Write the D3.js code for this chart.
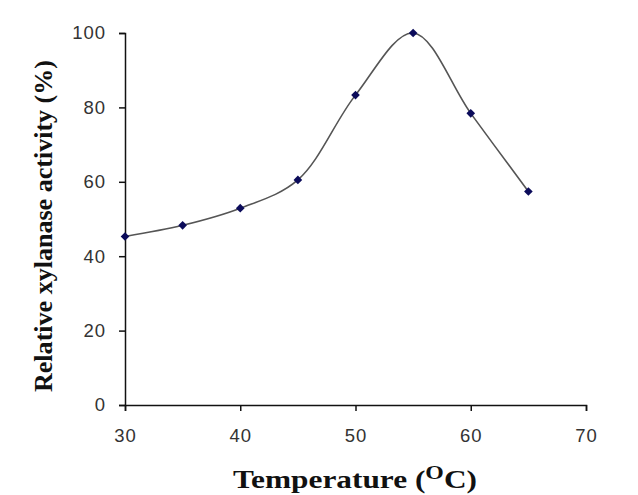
<!DOCTYPE html>
<html><head><meta charset="utf-8">
<script src="https://cdn.jsdelivr.net/npm/d3@7"></script>
<style>body{margin:0;background:#fff}</style>
</head><body>
<svg id="c" width="638" height="495"></svg>
<script>
const temps = [30, 35, 40, 45, 50, 55, 60, 65];
const activity = [45.3, 48.3, 52.9, 60.5, 83.3, 100, 78.4, 57.4];
const xTicks = [30, 40, 50, 60, 70];
const yTicks = [0, 20, 40, 60, 80, 100];

const svg = d3.select("#c");
const x = d3.scaleLinear().domain([30, 70]).range([125, 586]);
const y = d3.scaleLinear().domain([0, 100]).range([405, 33]);

const xAxis = svg.append("g").attr("transform", "translate(0,405)")
  .call(d3.axisBottom(x).tickValues(xTicks).tickSize(6).tickPadding(18));
const yAxis = svg.append("g").attr("transform", "translate(125,0)")
  .call(d3.axisLeft(y).tickValues(yTicks).tickSize(6).tickPadding(13));
[xAxis, yAxis].forEach(a => {
  a.selectAll("path,line").attr("stroke", "#111").attr("stroke-width", 1.5);
  a.selectAll("text").attr("font-family", "Liberation Sans, Arial, sans-serif")
    .attr("font-size", 18.5).attr("fill", "#333").attr("letter-spacing", "1px");
});

const pts = temps.map((t, i) => [t, activity[i]]);
svg.append("path").datum(pts)
  .attr("fill", "none").attr("stroke", "#555").attr("stroke-width", 1.6)
  .attr("d", d3.line().x(d => x(d[0])).y(d => y(d[1])).curve(d3.curveCatmullRom.alpha(0.5)));

svg.selectAll("path.m").data(pts).enter().append("path").attr("class", "m")
  .attr("transform", d => `translate(${x(d[0])},${y(d[1])})`)
  .attr("d", d3.symbol().type(d3.symbolDiamond2).size(48))
  .attr("fill", "#0b0b5a");

const xt = svg.append("text").attr("x", 233).attr("y", 488)
  .attr("textLength", 244).attr("lengthAdjust", "spacingAndGlyphs")
  .attr("font-family", "Liberation Serif, Times New Roman, serif").attr("font-weight", "bold")
  .attr("font-size", 25).attr("fill", "#111");
xt.append("tspan").text("Temperature (");
xt.append("tspan").attr("dy", -9).attr("font-size", 19).text("O");
xt.append("tspan").attr("dy", 9).text("C)");

svg.append("text").attr("transform", "translate(52,392) rotate(-90)")
  .attr("textLength", 332).attr("lengthAdjust", "spacingAndGlyphs")
  .attr("font-family", "Liberation Serif, Times New Roman, serif").attr("font-weight", "bold")
  .attr("font-size", 25).attr("fill", "#111").text("Relative xylanase activity (%)");
</script>
</body></html>
